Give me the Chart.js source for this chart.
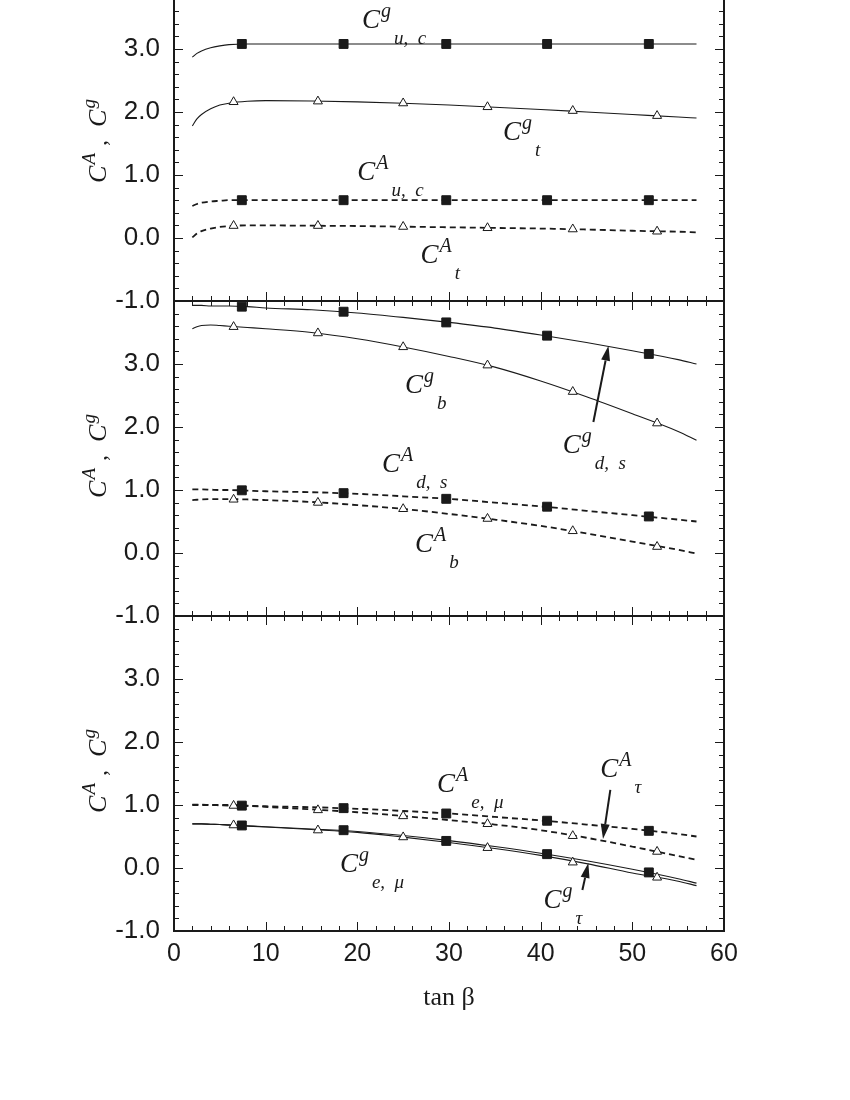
<!DOCTYPE html>
<html>
<head>
<meta charset="utf-8">
<script src="https://cdn.jsdelivr.net/npm/chart.js@4.4.0/dist/chart.umd.min.js"></script>
<style>
  body { margin: 0; background: #fff; width: 850px; height: 1100px; overflow: hidden; position: relative; }
  canvas { position: absolute; left: 0; }
</style>
</head>
<body>
<canvas id="painelTopo" width="850" height="375" style="top:-44px"></canvas>
<canvas id="painelMeio" width="850" height="375" style="top:271px"></canvas>
<canvas id="painelBase" width="850" height="450" style="top:586px"></canvas>
<script>
// x positions of the computed curves and of the markers (tan beta)
const curveX = [2, 2.5, 3, 4, 5, 6, 8, 10, 15, 20, 25, 30, 35, 40, 45, 50, 55, 57];
const squareX = [7.4, 18.5, 29.7, 40.7, 51.8];
const triX = [6.5, 15.7, 25.0, 34.2, 43.5, 52.7];
const xTickLabels = ["0", "10", "20", "30", "40", "50", "60"];

// top panel: u,c and t
const ucG = [2.87, 2.93, 2.97, 3.02, 3.05, 3.07, 3.08, 3.08, 3.08, 3.08, 3.08, 3.08, 3.08, 3.08, 3.08, 3.08, 3.08, 3.08];
const tG = [1.78, 1.89, 1.96, 2.05, 2.11, 2.14, 2.17, 2.18, 2.175, 2.16, 2.14, 2.11, 2.075, 2.04, 2.0, 1.96, 1.92, 1.905];
const ucA = [0.51, 0.54, 0.56, 0.58, 0.59, 0.60, 0.60, 0.60, 0.60, 0.60, 0.60, 0.60, 0.60, 0.60, 0.60, 0.60, 0.60, 0.60];
const tA = [0.01, 0.07, 0.11, 0.15, 0.175, 0.19, 0.20, 0.20, 0.195, 0.19, 0.18, 0.17, 0.16, 0.15, 0.135, 0.115, 0.10, 0.09];
const ucGPts = [3.08, 3.08, 3.08, 3.08, 3.08];
const tGPts = [2.16, 2.17, 2.14, 2.08, 2.02, 1.94];
const ucAPts = [0.60, 0.60, 0.60, 0.60, 0.60];
const tAPts = [0.195, 0.195, 0.18, 0.16, 0.14, 0.105];

// middle panel: d,s and b
const dsG = [3.93, 3.93, 3.93, 3.92, 3.92, 3.92, 3.91, 3.89, 3.86, 3.81, 3.74, 3.66, 3.57, 3.46, 3.34, 3.21, 3.07, 3.0];
const bG = [3.56, 3.59, 3.61, 3.62, 3.61, 3.60, 3.58, 3.56, 3.50, 3.40, 3.27, 3.12, 2.95, 2.73, 2.48, 2.21, 1.93, 1.79];
const dsA = [1.01, 1.01, 1.01, 1.005, 1.0, 1.0, 0.99, 0.98, 0.965, 0.94, 0.90, 0.86, 0.80, 0.74, 0.67, 0.60, 0.53, 0.50];
const bA = [0.84, 0.845, 0.85, 0.855, 0.855, 0.855, 0.85, 0.84, 0.81, 0.76, 0.70, 0.62, 0.53, 0.43, 0.31, 0.18, 0.05, -0.01];
const dsGPts = [3.91, 3.83, 3.66, 3.45, 3.16];
const bGPts = [3.59, 3.49, 3.27, 2.98, 2.56, 2.06];
const dsAPts = [0.995, 0.95, 0.86, 0.735, 0.58];
const bAPts = [0.85, 0.80, 0.70, 0.545, 0.35, 0.10];

// bottom panel: e,mu and tau
const emA = [1.005, 1.005, 1.005, 1.0, 1.0, 1.0, 0.99, 0.98, 0.965, 0.94, 0.905, 0.865, 0.81, 0.755, 0.69, 0.62, 0.54, 0.50];
const tauA = [1.0, 1.0, 1.0, 1.0, 0.995, 0.99, 0.985, 0.97, 0.93, 0.885, 0.825, 0.76, 0.69, 0.60, 0.48, 0.34, 0.19, 0.13];
const emG = [0.70, 0.70, 0.70, 0.695, 0.69, 0.685, 0.67, 0.655, 0.62, 0.58, 0.515, 0.435, 0.34, 0.235, 0.115, -0.02, -0.17, -0.24];
const tauG = [0.70, 0.70, 0.70, 0.695, 0.69, 0.68, 0.665, 0.65, 0.61, 0.565, 0.49, 0.405, 0.31, 0.20, 0.07, -0.08, -0.21, -0.28];
const emAPts = [0.99, 0.95, 0.865, 0.75, 0.59];
const tauAPts = [0.99, 0.92, 0.825, 0.70, 0.51, 0.26];
const emGPts = [0.675, 0.60, 0.43, 0.22, -0.07];
const tauGPts = [0.68, 0.60, 0.49, 0.32, 0.09, -0.15];

const INK = "#1a1a1a";
const SERIF = '"Liberation Serif", "Times New Roman", serif';
const SANS = '"Liberation Sans", Arial, sans-serif';

// smooth curve, solid (g) or dashed (A)
function curva(values, dashed) {
    return {
        data: curveX.map((x, i) => ({ x: x, y: values[i] })),
        showLine: true,
        borderColor: INK,
        borderWidth: dashed ? 1.8 : 1.1,
        borderDash: dashed ? [6, 4] : [],
        cubicInterpolationMode: "monotone",
        pointRadius: 0,
        order: 2
    };
}

// markers: filled squares or open triangles
function marcas(xs, values, tipo) {
    const quadrado = tipo === "sq";
    return {
        data: xs.map((x, i) => ({ x: x, y: values[i] })),
        showLine: false,
        pointStyle: quadrado ? "rect" : "triangle",
        pointRadius: quadrado ? 6.3 : 5.2,
        pointBackgroundColor: quadrado ? INK : "#fff",
        pointBorderColor: INK,
        pointBorderWidth: 1,
        order: 1
    };
}

// draws C^sup  sub (subscript placed after the superscript)
function desenharRotulo(ctx, px, py, sup, sub) {
    ctx.font = "italic 27px " + SERIF;
    ctx.fillText("C", px, py);
    const wC = ctx.measureText("C").width;
    ctx.font = "italic 20px " + SERIF;
    ctx.fillText(sup, px + wC + 1, py - 11);
    const wS = ctx.measureText(sup).width;
    ctx.font = "italic 19px " + SERIF;
    ctx.fillText(sub, px + wC + wS + 4, py + 16);
}

function desenharSeta(ctx, x1, y1, x2, y2) {
    const ang = Math.atan2(y2 - y1, x2 - x1);
    const L = 15, W = 4.5;
    const bx = x2 - L * Math.cos(ang), by = y2 - L * Math.sin(ang);
    ctx.lineWidth = 2;
    ctx.beginPath();
    ctx.moveTo(x1, y1);
    ctx.lineTo(bx, by);
    ctx.stroke();
    ctx.beginPath();
    ctx.moveTo(x2, y2);
    ctx.lineTo(bx + W * Math.sin(ang), by - W * Math.cos(ang));
    ctx.lineTo(bx - W * Math.sin(ang), by + W * Math.cos(ang));
    ctx.closePath();
    ctx.fill();
}

// frame, inward ticks, y title and curve labels
const molduraPlugin = {
    id: "moldura",
    afterDraw(chart, args, opts) {
        const ctx = chart.ctx;
        const a = chart.chartArea;
        const xs = chart.scales.x, ys = chart.scales.y;
        ctx.save();
        ctx.strokeStyle = INK;
        ctx.fillStyle = INK;
        ctx.lineWidth = 1;
        for (let v = 0; v <= 60; v += 2) {
            const p = Math.round(xs.getPixelForValue(v)) + 0.5;
            const len = v % 10 === 0 ? 9 : 5;
            ctx.beginPath();
            ctx.moveTo(p, a.bottom); ctx.lineTo(p, a.bottom - len);
            ctx.moveTo(p, a.top); ctx.lineTo(p, a.top + len);
            ctx.stroke();
        }
        for (let k = 0; k <= 25; k++) {
            const v = -1 + k * 0.2;
            const p = Math.round(ys.getPixelForValue(v)) + 0.5;
            const len = k % 5 === 0 ? 9 : 5;
            ctx.beginPath();
            ctx.moveTo(a.left, p); ctx.lineTo(a.left + len, p);
            ctx.moveTo(a.right, p); ctx.lineTo(a.right - len, p);
            ctx.stroke();
        }
        ctx.lineWidth = 2;
        ctx.strokeRect(a.left, a.top, a.right - a.left, a.bottom - a.top);

        // y title: C^A , C^g
        ctx.save();
        ctx.translate(106, (a.top + a.bottom) / 2 - 3);
        ctx.rotate(-Math.PI / 2);
        const partes = [
            ["C", "italic 26px ", 0], ["A", "italic 19px ", -11], [" ,  ", "24px ", 0],
            ["C", "italic 26px ", 0], ["g", "italic 19px ", -11]
        ];
        let total = 0;
        partes.forEach(p => { ctx.font = p[1] + SERIF; total += ctx.measureText(p[0]).width + 1; });
        let cx = -total / 2;
        partes.forEach(p => {
            ctx.font = p[1] + SERIF;
            ctx.fillText(p[0], cx, p[2]);
            cx += ctx.measureText(p[0]).width + 1;
        });
        ctx.restore();

        (opts.rotulos || []).forEach(r => {
            desenharRotulo(ctx, xs.getPixelForValue(r.x), ys.getPixelForValue(r.y), r.sup, r.sub);
        });
        (opts.setas || []).forEach(s => {
            desenharSeta(ctx, xs.getPixelForValue(s[0]), ys.getPixelForValue(s[1]),
                xs.getPixelForValue(s[2]), ys.getPixelForValue(s[3]));
        });
        ctx.restore();
    }
};

function criarPainel(id, datasets, rotulos, setas, comEixoX) {
    const ctx = document.getElementById(id).getContext("2d");
    return new Chart(ctx, {
        type: "scatter",
        data: { datasets: datasets },
        options: {
            responsive: false,
            animation: false,
            devicePixelRatio: 1,
            layout: { padding: { left: 0, right: 126, top: 30, bottom: comEixoX ? 0 : 30 } },
            plugins: {
                legend: { display: false },
                tooltip: { enabled: false },
                moldura: { rotulos: rotulos, setas: setas }
            },
            scales: {
                x: {
                    type: "linear", min: 0, max: 60,
                    display: comEixoX,
                    grid: { display: false, drawTicks: false },
                    border: { display: false },
                    afterFit: s => { s.height = comEixoX ? 105 : 0; },
                    ticks: {
                        stepSize: 10, padding: 8, color: INK,
                        font: { family: SANS, size: 25 },
                        callback: v => xTickLabels[v / 10]
                    },
                    title: {
                        display: true, text: "tan β", color: INK,
                        font: { family: SERIF, size: 26 },
                        padding: { top: 0, bottom: 22 }
                    }
                },
                y: {
                    type: "linear", min: -1, max: 4,
                    grid: { display: false, drawTicks: false },
                    border: { display: false },
                    afterFit: s => { s.width = 174; },
                    ticks: {
                        stepSize: 1, padding: 14, color: INK,
                        font: { family: SANS, size: 26 },
                        callback: v => (v >= 4 ? "" : v.toFixed(1))
                    }
                }
            }
        },
        plugins: [molduraPlugin]
    });
}

document.addEventListener("DOMContentLoaded", function () {
    criarPainel("painelTopo", [
        marcas(squareX, ucGPts, "sq"), marcas(triX, tGPts, "tri"),
        marcas(squareX, ucAPts, "sq"), marcas(triX, tAPts, "tri"),
        curva(ucG, false), curva(tG, false), curva(ucA, true), curva(tA, true)
    ], [
        { x: 20.5, y: 3.33, sup: "g", sub: "u,  c" },
        { x: 35.9, y: 1.56, sup: "g", sub: "t" },
        { x: 20.0, y: 0.92, sup: "A", sub: "u,  c" },
        { x: 26.9, y: -0.40, sup: "A", sub: "t" }
    ], [], false);

    criarPainel("painelMeio", [
        marcas(squareX, dsGPts, "sq"), marcas(triX, bGPts, "tri"),
        marcas(squareX, dsAPts, "sq"), marcas(triX, bAPts, "tri"),
        curva(dsG, false), curva(bG, false), curva(dsA, true), curva(bA, true)
    ], [
        { x: 25.2, y: 2.54, sup: "g", sub: "b" },
        { x: 42.4, y: 1.59, sup: "g", sub: "d,  s" },
        { x: 22.7, y: 1.29, sup: "A", sub: "d,  s" },
        { x: 26.3, y: 0.02, sup: "A", sub: "b" }
    ], [[45.75, 2.08, 47.4, 3.29]], false);

    criarPainel("painelBase", [
        marcas(squareX, emAPts, "sq"), marcas(triX, tauAPts, "tri"),
        marcas(squareX, emGPts, "sq"), marcas(triX, tauGPts, "tri"),
        curva(emA, true), curva(tauA, true), curva(emG, false), curva(tauG, false)
    ], [
        { x: 28.7, y: 1.21, sup: "A", sub: "e,  μ" },
        { x: 46.5, y: 1.44, sup: "A", sub: "τ" },
        { x: 40.3, y: -0.63, sup: "g", sub: "τ" },
        { x: 18.1, y: -0.06, sup: "g", sub: "e,  μ" }
    ], [[47.6, 1.24, 46.8, 0.46], [44.55, -0.35, 45.2, 0.08]], true);
});
</script>
</body>
</html>
